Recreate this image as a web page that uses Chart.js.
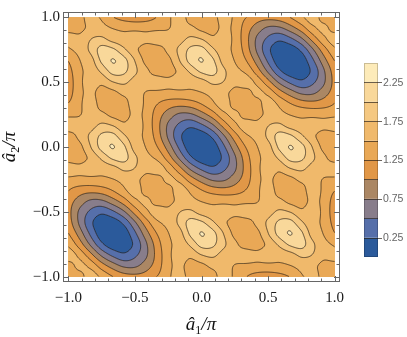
<!DOCTYPE html>
<html>
<head>
<meta charset="utf-8">
<script src="https://cdn.jsdelivr.net/npm/chart.js@4.4.1/dist/chart.umd.min.js"></script>
<style>
  html, body { margin: 0; padding: 0; background: #fff; }
  #box { width: 407px; height: 337px; }
</style>
</head>
<body>
<div id="box"><canvas id="contourChart"></canvas></div>
<script>
'use strict';

// ---- values (step 1/12 along both axes) ----
const a1Values = [-1, -0.917, -0.833, -0.75, -0.667, -0.583, -0.5, -0.417, -0.333, -0.25, -0.167, -0.083,
                  0, 0.083, 0.167, 0.25, 0.333, 0.417, 0.5, 0.583, 0.667, 0.75, 0.833, 0.917, 1];
const a2Values = a1Values.slice().reverse();

// one row per a2 value (first row is a2 = 1), one column per a1 value
const zRows = [
  [1.36,1.40,1.62,1.45,1.26,1.13,1.09,1.13,1.26,1.45,1.62,1.40,1.36,1.40,1.62,1.45,1.26,1.13,1.09,1.13,1.26,1.45,1.62,1.40,1.36],
  [1.40,1.43,1.56,1.57,1.49,1.45,1.43,1.43,1.45,1.49,1.57,1.56,1.43,1.40,1.56,1.43,1.13,0.89,0.71,0.71,0.89,1.13,1.43,1.56,1.40],
  [1.62,1.56,1.74,1.80,1.64,1.57,1.62,1.56,1.62,1.57,1.64,1.80,1.74,1.56,1.62,1.43,1.09,0.71,0.45,0.31,0.45,0.71,1.09,1.43,1.62],
  [1.45,1.57,1.80,2.09,2.05,1.80,1.56,1.40,1.40,1.56,1.80,2.05,2.09,1.80,1.57,1.45,1.13,0.71,0.31,0.10,0.10,0.31,0.71,1.13,1.45],
  [1.26,1.49,1.64,2.05,2.26,2.09,1.74,1.43,1.36,1.43,1.74,2.09,2.26,2.05,1.64,1.49,1.26,0.89,0.45,0.10,0.00,0.10,0.45,0.89,1.26],
  [1.13,1.45,1.57,1.80,2.09,2.05,1.80,1.56,1.40,1.40,1.56,1.80,2.05,2.09,1.80,1.57,1.45,1.13,0.71,0.31,0.10,0.10,0.31,0.71,1.13],
  [1.09,1.43,1.62,1.56,1.74,1.80,1.64,1.57,1.62,1.56,1.62,1.57,1.64,1.80,1.74,1.56,1.62,1.43,1.09,0.71,0.45,0.31,0.45,0.71,1.09],
  [1.13,1.43,1.56,1.40,1.43,1.56,1.57,1.49,1.45,1.43,1.43,1.45,1.49,1.57,1.56,1.43,1.40,1.56,1.43,1.13,0.89,0.71,0.71,0.89,1.13],
  [1.26,1.45,1.62,1.40,1.36,1.40,1.62,1.45,1.26,1.13,1.09,1.13,1.26,1.45,1.62,1.40,1.36,1.40,1.62,1.45,1.26,1.13,1.09,1.13,1.26],
  [1.45,1.49,1.57,1.56,1.43,1.40,1.56,1.43,1.13,0.89,0.71,0.71,0.89,1.13,1.43,1.56,1.40,1.43,1.56,1.57,1.49,1.45,1.43,1.43,1.45],
  [1.62,1.57,1.64,1.80,1.74,1.56,1.62,1.43,1.09,0.71,0.45,0.31,0.45,0.71,1.09,1.43,1.62,1.56,1.74,1.80,1.64,1.57,1.62,1.56,1.62],
  [1.40,1.56,1.80,2.05,2.09,1.80,1.57,1.45,1.13,0.71,0.31,0.10,0.10,0.31,0.71,1.13,1.45,1.57,1.80,2.09,2.05,1.80,1.56,1.40,1.40],
  [1.36,1.43,1.74,2.09,2.26,2.05,1.64,1.49,1.26,0.89,0.45,0.10,0.00,0.10,0.45,0.89,1.26,1.49,1.64,2.05,2.26,2.09,1.74,1.43,1.36],
  [1.40,1.40,1.56,1.80,2.05,2.09,1.80,1.57,1.45,1.13,0.71,0.31,0.10,0.10,0.31,0.71,1.13,1.45,1.57,1.80,2.09,2.05,1.80,1.56,1.40],
  [1.62,1.56,1.62,1.57,1.64,1.80,1.74,1.56,1.62,1.43,1.09,0.71,0.45,0.31,0.45,0.71,1.09,1.43,1.62,1.56,1.74,1.80,1.64,1.57,1.62],
  [1.45,1.43,1.43,1.45,1.49,1.57,1.56,1.43,1.40,1.56,1.43,1.13,0.89,0.71,0.71,0.89,1.13,1.43,1.56,1.40,1.43,1.56,1.57,1.49,1.45],
  [1.26,1.13,1.09,1.13,1.26,1.45,1.62,1.40,1.36,1.40,1.62,1.45,1.26,1.13,1.09,1.13,1.26,1.45,1.62,1.40,1.36,1.40,1.62,1.45,1.26],
  [1.13,0.89,0.71,0.71,0.89,1.13,1.43,1.56,1.40,1.43,1.56,1.57,1.49,1.45,1.43,1.43,1.45,1.49,1.57,1.56,1.43,1.40,1.56,1.43,1.13],
  [1.09,0.71,0.45,0.31,0.45,0.71,1.09,1.43,1.62,1.56,1.74,1.80,1.64,1.57,1.62,1.56,1.62,1.57,1.64,1.80,1.74,1.56,1.62,1.43,1.09],
  [1.13,0.71,0.31,0.10,0.10,0.31,0.71,1.13,1.45,1.57,1.80,2.09,2.05,1.80,1.56,1.40,1.40,1.56,1.80,2.05,2.09,1.80,1.57,1.45,1.13],
  [1.26,0.89,0.45,0.10,0.00,0.10,0.45,0.89,1.26,1.49,1.64,2.05,2.26,2.09,1.74,1.43,1.36,1.43,1.74,2.09,2.26,2.05,1.64,1.49,1.26],
  [1.45,1.13,0.71,0.31,0.10,0.10,0.31,0.71,1.13,1.45,1.57,1.80,2.09,2.05,1.80,1.56,1.40,1.40,1.56,1.80,2.05,2.09,1.80,1.57,1.45],
  [1.62,1.43,1.09,0.71,0.45,0.31,0.45,0.71,1.09,1.43,1.62,1.56,1.74,1.80,1.64,1.57,1.62,1.56,1.62,1.57,1.64,1.80,1.74,1.56,1.62],
  [1.40,1.56,1.43,1.13,0.89,0.71,0.71,0.89,1.13,1.43,1.56,1.40,1.43,1.56,1.57,1.49,1.45,1.43,1.43,1.45,1.49,1.57,1.56,1.43,1.40],
  [1.36,1.40,1.62,1.45,1.26,1.13,1.09,1.13,1.26,1.45,1.62,1.40,1.36,1.40,1.62,1.45,1.26,1.13,1.09,1.13,1.26,1.45,1.62,1.40,1.36],
];

const levels = [0, 0.25, 0.5, 0.75, 1, 1.25, 1.5, 1.75, 2, 2.25, 2.5];
const bandColors = ['#2b5a9b', '#566faa', '#887d8b', '#ab8764', '#e19747', '#e9a856',
                    '#f0b96b', '#f5c881', '#f9d89a', '#fdebb9'];
const axisTicks = [-1, -0.5, 0, 0.5, 1];
const legendTicks = [0.25, 0.75, 1.25, 1.75, 2.25];

const SERIF = '"Liberation Serif", "Times New Roman", serif';

function hexToRgb(hex) {
  const n = parseInt(hex.slice(1), 16);
  return [n >> 16, (n >> 8) & 255, n & 255];
}

function fmtTick(v) {
  return (v < 0 ? '\u2212' : '') + Math.abs(v).toFixed(1);
}

// ---- smooth surface through the grid (periodic Catmull-Rom) ----
function crWeights(t) {
  const t2 = t * t, t3 = t2 * t;
  return [(-t3 + 2 * t2 - t) / 2, (3 * t3 - 5 * t2 + 2) / 2, (-3 * t3 + 4 * t2 + t) / 2, (t3 - t2) / 2];
}

function wrap(k, n) {
  return ((k % n) + n) % n;
}

// marching squares edge table: edges 0 top, 1 right, 2 bottom, 3 left
const SEGS = {
  1: [[3, 2]], 2: [[2, 1]], 3: [[3, 1]], 4: [[0, 1]], 6: [[0, 2]], 7: [[3, 0]],
  8: [[3, 0]], 9: [[0, 2]], 11: [[0, 1]], 12: [[3, 1]], 13: [[2, 1]], 14: [[3, 2]],
};

function edgePoint(e, X, Y, v0, v1, v2, v3, L) {
  if (e === 0) return [X + (L - v0) / (v1 - v0), Y];
  if (e === 1) return [X + 1, Y + (L - v1) / (v2 - v1)];
  if (e === 2) return [X + (L - v3) / (v2 - v3), Y + 1];
  return [X, Y + (L - v0) / (v3 - v0)];
}

function strokeLevel(ctx, vals, w, h, ox, oy, L) {
  ctx.beginPath();
  for (let j = 0; j < h - 1; j++) {
    for (let i = 0; i < w - 1; i++) {
      const v0 = vals[j * w + i], v1 = vals[j * w + i + 1];
      const v2 = vals[(j + 1) * w + i + 1], v3 = vals[(j + 1) * w + i];
      const c = (v0 > L ? 8 : 0) | (v1 > L ? 4 : 0) | (v2 > L ? 2 : 0) | (v3 > L ? 1 : 0);
      if (c === 0 || c === 15) continue;
      let segs = SEGS[c];
      if (c === 5 || c === 10) {
        const high = (v0 + v1 + v2 + v3) / 4 > L;
        segs = (c === 5) === high ? [[3, 0], [2, 1]] : [[0, 1], [3, 2]];
      }
      const X = ox + i + 0.5, Y = oy + j + 0.5;
      for (const [ea, eb] of segs) {
        const p = edgePoint(ea, X, Y, v0, v1, v2, v3, L);
        const q = edgePoint(eb, X, Y, v0, v1, v2, v3, L);
        ctx.moveTo(p[0], p[1]);
        ctx.lineTo(q[0], q[1]);
      }
    }
  }
  ctx.stroke();
}

const contourPlugin = {
  id: 'contourField',
  beforeDatasetsDraw(chart) {
    const { ctx, scales: { x, y } } = chart;
    const N = a1Values.length - 1, M = a2Values.length - 1;
    const a1Min = a1Values[0], a1Max = a1Values[N];
    const a2Top = a2Values[0], a2Bottom = a2Values[M];
    const ox = Math.round(x.getPixelForValue(a1Min));
    const oy = Math.round(y.getPixelForValue(a2Top));
    const w = Math.round(x.getPixelForValue(a1Max)) - ox;
    const h = Math.round(y.getPixelForValue(a2Bottom)) - oy;

    // column positions/weights in grid units
    const cols = [];
    for (let i = 0; i < w; i++) {
      const c = (x.getValueForPixel(ox + i + 0.5) - a1Min) / (a1Max - a1Min) * N;
      const c0 = Math.floor(c);
      cols.push({ c0, wt: crWeights(c - c0) });
    }
    const vals = new Float32Array(w * h);
    for (let j = 0; j < h; j++) {
      const r = (a2Top - y.getValueForPixel(oy + j + 0.5)) / (a2Top - a2Bottom) * M;
      const r0 = Math.floor(r);
      const wr = crWeights(r - r0);
      const rows = [0, 1, 2, 3].map(m => zRows[wrap(r0 - 1 + m, M)]);
      for (let i = 0; i < w; i++) {
        const { c0, wt } = cols[i];
        let f = 0;
        for (let m = 0; m < 4; m++) {
          const row = rows[m];
          let s = 0;
          for (let n = 0; n < 4; n++) s += wt[n] * row[wrap(c0 - 1 + n, N)];
          f += wr[m] * s;
        }
        vals[j * w + i] = f;
      }
    }

    const rgb = bandColors.map(hexToRgb);
    const off = document.createElement('canvas');
    off.width = w; off.height = h;
    const octx = off.getContext('2d');
    const img = octx.createImageData(w, h);
    for (let p = 0; p < w * h; p++) {
      let b = 0;
      while (b < rgb.length - 1 && vals[p] >= levels[b + 1]) b++;
      img.data[p * 4] = rgb[b][0];
      img.data[p * 4 + 1] = rgb[b][1];
      img.data[p * 4 + 2] = rgb[b][2];
      img.data[p * 4 + 3] = 255;
    }
    octx.putImageData(img, 0, 0);

    ctx.save();
    ctx.drawImage(off, ox, oy);
    ctx.beginPath();
    ctx.rect(ox, oy, w, h);
    ctx.clip();
    ctx.strokeStyle = 'rgba(40,30,20,0.78)';
    ctx.lineWidth = 0.95;
    for (const L of levels.slice(1, -1)) strokeLevel(ctx, vals, w, h, ox, oy, L);
    ctx.restore();
  },

  afterDraw(chart) {
    const { ctx, chartArea: ca, scales: { x, y } } = chart;
    ctx.save();

    // frame with inward ticks
    ctx.strokeStyle = '#666';
    ctx.lineWidth = 1;
    ctx.strokeRect(Math.round(ca.left) + 0.5, Math.round(ca.top) + 0.5,
                   Math.round(ca.right - ca.left) - 1, Math.round(ca.bottom - ca.top) - 1);
    ctx.beginPath();
    for (let t = -10; t <= 10; t++) {
      const v = t / 10;
      const len = t % 5 === 0 ? 6 : 3.5;
      const px = Math.round(x.getPixelForValue(v)) + 0.5;
      const py = Math.round(y.getPixelForValue(v)) + 0.5;
      ctx.moveTo(px, ca.bottom); ctx.lineTo(px, ca.bottom - len);
      ctx.moveTo(px, ca.top); ctx.lineTo(px, ca.top + len);
      ctx.moveTo(ca.left, py); ctx.lineTo(ca.left + len, py);
      ctx.moveTo(ca.right, py); ctx.lineTo(ca.right - len, py);
    }
    ctx.stroke();

    // axis titles
    drawTitle(ctx, 201, 330, '1');
    ctx.save();
    ctx.translate(15, 147);
    ctx.rotate(-Math.PI / 2);
    drawTitle(ctx, 0, 0, '2');
    ctx.restore();

    // bar legend
    const bx = 364, bw = 14, bBottom = 257, bTop = 63;
    const vy = v => bBottom - (v - levels[0]) / (levels[levels.length - 1] - levels[0]) * (bBottom - bTop);
    for (let b = 0; b < bandColors.length; b++) {
      ctx.fillStyle = bandColors[b];
      ctx.fillRect(bx, vy(levels[b + 1]), bw, vy(levels[b]) - vy(levels[b + 1]));
    }
    ctx.strokeStyle = 'rgba(45,35,25,0.7)';
    ctx.lineWidth = 1;
    ctx.beginPath();
    for (const L of levels.slice(1, -1)) {
      const py = Math.round(vy(L)) + 0.5;
      ctx.moveTo(bx, py);
      ctx.lineTo(bx + bw + (legendTicks.includes(L) ? 4 : 0), py);
    }
    ctx.stroke();
    ctx.strokeStyle = 'rgba(0,0,0,0.2)';
    ctx.strokeRect(bx + 0.5, Math.round(bTop) + 0.5, bw - 1, Math.round(bBottom - bTop) - 1);
    ctx.fillStyle = '#666';
    ctx.font = '10.5px "Liberation Sans", Arial, sans-serif';
    ctx.textAlign = 'left';
    ctx.textBaseline = 'middle';
    for (const L of legendTicks) ctx.fillText(L.toFixed(2), bx + bw + 5, vy(L) + 0.5);

    ctx.restore();
  },
};

function drawTitle(ctx, cx, cy, sub) {
  const parts = [
    { t: '\u00e2', f: 'italic 19px ' + SERIF, dy: 0 },
    { t: sub, f: '12px ' + SERIF, dy: 4 },
    { t: '/\u03c0', f: 'italic 19px ' + SERIF, dy: 0 },
  ];
  let total = 0;
  for (const p of parts) { ctx.font = p.f; p.w = ctx.measureText(p.t).width; total += p.w; }
  let px = cx - total / 2;
  ctx.fillStyle = '#111';
  ctx.textAlign = 'left';
  ctx.textBaseline = 'alphabetic';
  for (const p of parts) { ctx.font = p.f; ctx.fillText(p.t, px, cy + p.dy); px += p.w; }
}

function axisOptions(isX) {
  return {
    type: 'linear',
    min: -1.04,
    max: 1.04,
    grid: { display: false, drawTicks: false },
    border: { display: false },
    afterBuildTicks: scale => { scale.ticks = axisTicks.map(v => ({ value: v })); },
    afterFit: scale => {
      if (isX) scale.height = 55;
      else scale.width = 63;
    },
    ticks: {
      autoSkip: false,
      maxRotation: 0,
      padding: isX ? 7 : 3,
      color: '#1a1a1a',
      font: { family: SERIF, size: 15 },
      callback: v => fmtTick(v),
    },
  };
}

new Chart(document.getElementById('contourChart'), {
  type: 'scatter',
  data: { datasets: [{ data: [], showLine: false }] },
  options: {
    responsive: true,
    maintainAspectRatio: false,
    animation: false,
    events: [],
    layout: { padding: { top: 5, right: 67, left: 0, bottom: 0 } },
    plugins: { legend: { display: false }, tooltip: { enabled: false } },
    scales: { x: axisOptions(true), y: axisOptions(false) },
  },
  plugins: [contourPlugin],
});
</script>
</body>
</html>
